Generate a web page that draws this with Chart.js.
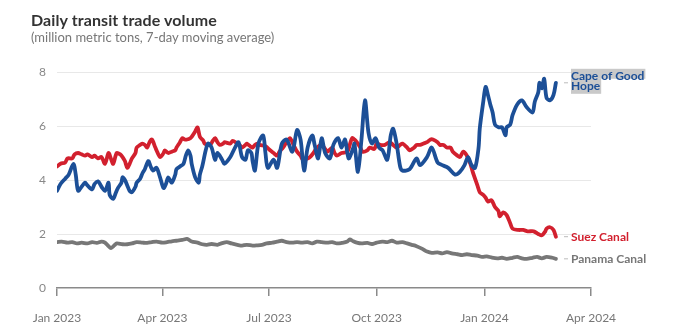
<!DOCTYPE html>
<html>
<head>
<meta charset="utf-8">
<script src="https://cdn.jsdelivr.net/npm/chart.js@4.4.1/dist/chart.umd.min.js"></script>
<style>
  html, body { margin: 0; padding: 0; background: #fff; }
  #wrap { position: relative; width: 700px; height: 331px; }
  #title { position: absolute; left: 31px; top: 10px; font: bold 16px Lato, sans-serif; color: #333; letter-spacing: 0.1px; }
  #sub { position: absolute; left: 31px; top: 29px; font: 13px Lato, sans-serif; color: #777; }
  canvas { position: absolute; left: 0; top: 0; }
</style>
</head>
<body>
<div id="wrap">
  <canvas id="c" width="700" height="331"></canvas>
  <div id="title">Daily transit trade volume</div>
  <div id="sub">(million metric tons, 7-day moving average)</div>
</div>
<script>
// Days since 1 Jan 2023
const xTickDays = [0, 90, 181, 273, 365, 456];
const xTickLabels = ["Jan 2023", "Apr 2023", "Jul 2023", "Oct 2023", "Jan 2024", "Apr 2024"];
const yTicks = [0, 2, 4, 6, 8];

const seriesNames = ["Cape of Good Hope", "Suez Canal", "Panama Canal"];

const capeDays = [0,3,7,10,14,16,18,21,24,26,30,32,35,38,41,44,45,48,50,52,55,56,58,60,62,64,67,68,71,73,75,78,80,82,85,88,91,93,95,98,101,102,105,108,110,112,114,115,118,121,122,124,127,129,132,135,137,141,143,148,152,155,158,161,163,166,167,169,172,176,178,180,185,188,192,196,201,205,208,211,214,218,220,223,226,229,233,236,240,243,246,249,253,254,257,260,263,266,269,272,275,278,282,285,287,290,293,295,301,307,310,316,320,325,329,334,340,344,348,351,354,357,360,361,364,366,368,370,372,374,377,380,383,384,387,389,393,397,401,406,408,411,412,414,416,418,421,424,426];
const capeValues = [3.6,3.85,4.05,4.2,4.6,4.2,3.6,3.75,3.9,3.8,3.65,3.85,3.95,3.75,3.6,3.9,3.45,3.3,3.5,3.7,3.9,4.1,4.0,3.8,3.6,3.55,3.75,3.9,4.05,4.25,4.4,4.7,4.5,4.35,4.45,4.1,3.7,3.85,4.1,3.9,4.2,4.4,4.5,4.6,4.9,5.1,4.9,4.6,4.1,3.9,4.2,4.5,5.1,5.35,5.2,4.75,5.0,4.75,4.6,4.85,5.2,5.4,4.85,4.75,5.1,5.0,4.7,4.35,5.35,5.65,5.0,4.45,4.75,4.45,5.35,5.5,5.05,5.85,5.5,4.35,5.2,5.65,5.3,4.8,5.55,5.0,4.8,5.3,5.55,5.2,5.5,4.8,5.2,5.35,4.3,5.5,6.95,5.75,5.35,5.55,5.2,5.1,4.75,5.65,5.9,5.35,4.5,4.35,4.4,4.8,4.55,4.85,5.2,4.65,4.55,4.45,4.2,4.3,4.55,4.85,4.55,4.45,5.2,5.9,6.9,7.45,7.15,6.8,6.5,6.05,5.95,5.95,5.65,5.95,6.05,6.4,6.8,6.95,6.7,6.5,6.9,7.25,7.6,7.4,7.75,7.05,6.95,7.15,7.6];

const suezDays = [0,3,7,9,13,15,18,21,24,26,30,32,35,38,41,44,46,48,51,54,56,58,60,62,64,67,68,71,73,75,77,79,81,84,85,88,91,92,95,98,101,102,105,107,109,111,114,115,118,120,122,125,126,129,131,133,135,137,139,142,143,148,150,154,156,158,161,162,165,167,169,171,173,178,182,185,188,190,193,196,199,202,205,208,210,214,216,219,222,226,229,231,235,237,239,243,248,250,252,254,256,259,261,265,267,271,273,276,280,284,287,290,293,295,299,301,305,307,310,313,316,319,321,325,327,330,333,336,338,342,344,347,350,353,355,359,361,364,366,368,371,374,377,378,381,384,387,389,394,398,402,407,411,414,417,418,421,424,426];
const suezValues = [4.5,4.6,4.65,4.8,4.8,4.95,5.0,4.95,4.9,4.95,4.85,4.9,4.8,4.85,4.6,5.0,4.8,4.6,5.0,4.95,4.85,4.7,4.45,4.6,4.8,5.0,5.2,5.3,5.35,5.3,5.2,5.4,5.5,5.2,5.1,4.85,5.0,5.1,5.0,5.05,5.1,5.2,5.4,5.55,5.5,5.5,5.55,5.6,5.8,5.95,5.6,5.45,5.35,5.3,5.3,5.45,5.55,5.4,5.3,5.35,5.4,5.35,5.45,5.35,5.3,5.2,5.3,5.35,5.25,5.2,5.3,5.35,5.3,5.25,5.1,5.0,4.9,5.05,5.2,5.4,5.55,5.3,5.05,4.9,4.75,4.8,4.85,5.0,5.2,5.3,5.15,5.05,5.2,5.0,4.9,5.0,5.05,5.3,5.55,5.5,5.4,5.2,5.05,5.1,5.2,5.15,5.35,5.3,5.3,5.4,5.3,5.2,5.3,5.35,5.2,5.1,5.2,5.3,5.3,5.35,5.4,5.5,5.5,5.4,5.3,5.3,5.2,5.2,5.05,4.9,4.85,5.05,4.9,4.6,4.3,3.8,3.55,3.45,3.35,3.2,3.25,3.0,2.85,2.65,2.8,2.7,2.4,2.2,2.15,2.15,2.1,2.1,2.0,1.95,2.1,2.2,2.25,2.15,1.9];

const panamaDays = [0,4,9,13,17,21,26,30,34,38,41,44,46,49,51,56,60,64,68,73,77,81,85,90,94,98,102,107,111,115,120,124,128,132,137,141,145,149,154,158,162,167,171,175,179,184,188,192,196,201,205,209,214,218,222,226,231,235,239,243,248,250,253,256,260,265,269,273,278,282,286,290,295,299,303,307,312,316,320,325,329,333,337,342,346,350,354,359,363,367,371,376,380,384,389,393,397,401,406,410,414,418,423,426];
const panamaValues = [1.7,1.72,1.68,1.7,1.65,1.68,1.65,1.7,1.67,1.72,1.68,1.55,1.48,1.58,1.65,1.62,1.62,1.65,1.7,1.68,1.67,1.7,1.72,1.68,1.7,1.73,1.75,1.78,1.82,1.72,1.68,1.62,1.6,1.63,1.6,1.66,1.7,1.65,1.6,1.57,1.6,1.57,1.58,1.6,1.65,1.68,1.72,1.75,1.7,1.68,1.7,1.68,1.7,1.65,1.72,1.7,1.68,1.7,1.65,1.67,1.72,1.8,1.73,1.68,1.65,1.67,1.63,1.68,1.72,1.7,1.75,1.68,1.7,1.65,1.6,1.55,1.45,1.35,1.3,1.32,1.28,1.33,1.28,1.25,1.22,1.25,1.22,1.2,1.15,1.17,1.13,1.1,1.12,1.08,1.12,1.15,1.1,1.08,1.12,1.15,1.1,1.15,1.12,1.08];

const colors = { cape: "#1c4f97", suez: "#d2202e", panama: "#777777" };

function pts(days, vals) { return days.map((d, i) => ({ x: d, y: vals[i] })); }

const endLabels = {
  id: "endLabels",
  afterDatasetsDraw(chart) {
    const ctx = chart.ctx;
    const ys = chart.scales.y;
    const x0 = 571;
    ctx.save();
    ctx.font = "bold 12px Lato, sans-serif";
    ctx.textBaseline = "middle";
    ctx.textAlign = "left";
    chart.data.datasets.forEach((ds) => {
      const last = ds.data[ds.data.length - 1];
      const y = ys.getPixelForValue(last.y);
      const lines = ds.labelLines;
      const lh = 10;
      const startY = y - (lines.length - 1) * lh / 2 - (lines.length > 1 ? 2 : 0);
      ctx.strokeStyle = "#bbbbbb";
      ctx.lineWidth = 1;
      ctx.beginPath();
      ctx.moveTo(564, y);
      ctx.lineTo(568, y);
      ctx.stroke();
      if (ds.highlight) {
        lines.forEach((t, i) => {
          const ly = startY + i * lh;
          const w = ctx.measureText(t).width;
          ctx.fillStyle = "#c9c9c9";
          ctx.fillRect(x0, ly - 7, w + 1, i === lines.length - 1 ? 15 : 10);
        });
      }
      lines.forEach((t, i) => {
        ctx.fillStyle = ds.borderColor;
        ctx.fillText(t, x0, startY + i * lh);
      });
    });
    ctx.restore();
  }
};

new Chart(document.getElementById("c"), {
  type: "line",
  data: {
    datasets: [
      { label: seriesNames[0], data: pts(capeDays, capeValues), borderColor: colors.cape, labelLines: ["Cape of Good", "Hope"], highlight: true },
      { label: seriesNames[1], data: pts(suezDays, suezValues), borderColor: colors.suez, labelLines: [seriesNames[1]] },
      { label: seriesNames[2], data: pts(panamaDays, panamaValues), borderColor: colors.panama, labelLines: [seriesNames[2]] }
    ].map(d => Object.assign({ borderWidth: 3.8, pointRadius: 0, tension: 0.3, fill: false, borderJoinStyle: "round", borderCapStyle: "round" }, d))
  },
  options: {
    responsive: false,
    animation: false,
    layout: { padding: { left: 0, right: 109, top: 72, bottom: 0 } },
    plugins: { legend: { display: false }, tooltip: { enabled: false }, title: { display: false } },
    scales: {
      x: {
        type: "linear", min: 0, max: 456,
        afterBuildTicks(s) { s.ticks = xTickDays.map(v => ({ value: v })); },
        afterFit(s) { s.height = 43; },
        ticks: {
          callback(v) { const i = xTickDays.indexOf(v); return i >= 0 ? xTickLabels[i] : ""; },
          font: { family: "Lato", size: 12 }, color: "#777", padding: 15, maxRotation: 0, autoSkip: false
        },
        grid: { display: true, drawOnChartArea: false, drawTicks: true, tickLength: 8, color: "#8a8a8a", lineWidth: 1.5 },
        border: { display: true, color: "#8a8a8a", width: 1.5 }
      },
      y: {
        min: 0, max: 8,
        afterBuildTicks(s) { s.ticks = yTicks.map(v => ({ value: v })); },
        afterFit(s) { s.width = 57; },
        ticks: { font: { family: "Lato", size: 12 }, color: "#888", padding: 11 },
        grid: { drawTicks: false, color: (c) => c.tick && c.tick.value === 0 ? "rgba(0,0,0,0)" : "#e8e8e8", lineWidth: 1 },
        border: { display: false }
      }
    }
  },
  plugins: [endLabels]
});
</script>
</body>
</html>
